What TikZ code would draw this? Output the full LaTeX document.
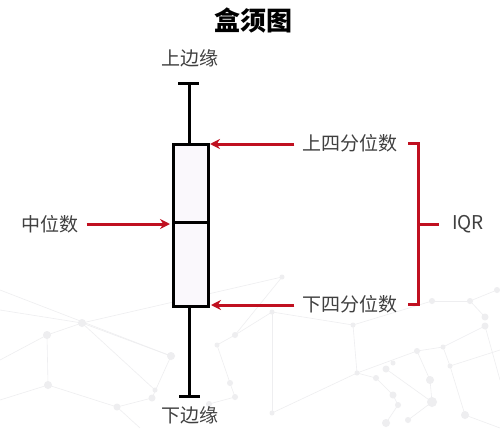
\documentclass[tikz,border=0pt]{standalone}
\usepackage{fontspec}
\setmainfont{Noto Sans CJK SC}
\usetikzlibrary{arrows.meta}
\definecolor{accred}{RGB}{192,16,32}
\definecolor{txtgray}{RGB}{64,64,64}
\definecolor{boxfill}{RGB}{250,248,252}
\definecolor{netgray}{RGB}{238,238,240}
\tikzset{
  lbl/.style={font=\fontsize{19}{22}\selectfont, text=txtgray, inner sep=2pt},
  bxline/.style={draw=black, line width=3pt},
  redarrow/.style={draw=accred, line width=3pt, -{Stealth[length=10pt,width=10pt]}},
  redline/.style={draw=accred, line width=3pt},
  netline/.style={draw=netgray, line width=0.6pt},
  netdot/.style={fill=netgray},
}
\begin{document}
\begin{tikzpicture}[x=1pt,y=-1pt]
\useasboundingbox (0,0) rectangle (500,428);
\fill[white] (0,0) rectangle (500,428);
% faint background network
\foreach \a/\b in {
  {(0,310)}/{(82,323)},{(82,323)}/{(47,335)},{(47,335)}/{(48,385)},{(48,385)}/{(117,407)},
  {(117,407)}/{(152,398)},{(82,323)}/{(171,356)},{(47,335)}/{(0,360)},{(48,385)}/{(0,400)},
  {(82,323)}/{(155,390)},{(171,356)}/{(152,398)},{(117,407)}/{(140,428)},{(82,323)}/{(282,277)},
  {(217,345)}/{(230,383)},{(230,383)}/{(235,397)},{(209,404)}/{(235,397)},{(235,335)}/{(217,345)},
  {(272,312)}/{(353,325)},{(272,312)}/{(272,413)},{(353,325)}/{(357,373)},{(357,373)}/{(376,378)},
  {(357,373)}/{(417,351)},{(417,351)}/{(443,347)},{(443,347)}/{(450,366)},{(450,366)}/{(465,415)},
  {(417,351)}/{(430,380)},{(430,380)}/{(432,402)},{(432,402)}/{(408,420)},{(376,378)}/{(393,395)},
  {(393,395)}/{(398,405)},{(398,405)}/{(386,423)},{(485,326)}/{(443,347)},{(485,317)}/{(470,301)},
  {(470,301)}/{(432,301)},{(432,301)}/{(353,325)},{(497,290)}/{(470,301)},{(485,326)}/{(500,380)},
  {(357,373)}/{(272,413)},{(235,335)}/{(272,312)},{(0,290)}/{(171,356)},{(450,366)}/{(500,350)},
  {(465,415)}/{(500,428)},{(386,369)}/{(432,402)},{(282,277)}/{(235,335)}}
  {\draw[netline] \a -- \b;}
\foreach \p/\r in {{(82,323)}/4,{(47,335)}/4,{(48,385)}/4,{(117,407)}/3.5,{(152,398)}/3.5,{(155,390)}/2.5,
  {(171,356)}/4,{(230,383)}/3,{(235,397)}/3,{(209,404)}/3,{(217,345)}/2.5,{(235,335)}/3,
  {(282,277)}/2.5,{(272,312)}/2.5,{(353,325)}/2.5,{(357,373)}/2.5,{(376,378)}/3,{(386,369)}/3.5,
  {(393,363)}/2.5,{(417,351)}/3,{(430,380)}/4,{(432,402)}/5,{(443,347)}/2.5,{(450,366)}/2.5,
  {(393,395)}/3.5,{(398,405)}/3,{(386,423)}/4,{(408,420)}/3,{(465,415)}/4,{(485,317)}/3.5,
  {(485,326)}/3.5,{(497,290)}/3,{(470,301)}/3,{(432,301)}/3,{(272,413)}/2.5}
  {\fill[netdot] \p circle (\r);}

% title
\node[font=\fontsize{26}{30}\selectfont\bfseries, text=black] (title) at (253,21) {盒须图};

% whiskers
\coordinate (wtop) at (189,83);
\coordinate (wbot) at (189,396);
\node[draw=black, line width=3pt, fill=boxfill, minimum width=35pt, minimum height=162pt, inner sep=0pt, anchor=north west] (box) at (172,143) {};
\draw[bxline] (box.north -| wtop) -- (wtop);
\draw[bxline] (box.south -| wbot) -- (wbot);
\draw[bxline] ([xshift=-11pt]wtop) -- ([xshift=10pt]wtop);
\draw[bxline] ([xshift=-10pt]wbot) -- ([xshift=11pt]wbot);
\coordinate (medl) at (172,222);
\coordinate (medr) at (207,222);
\draw[bxline] (medl) -- (medr);

% labels
\node[lbl] (up) at (190,58) {上边缘};
\node[lbl] (down) at (190,415) {下边缘};
\node[lbl] (mid) at (50,224) {中位数};
\node[lbl] (uq) at (350,143) {上四分位数};
\node[lbl] (lq) at (350,304) {下四分位数};
\node[lbl] (iqr) at (468,224) {IQR};

% arrows
\coordinate (midend) at (170,224);
\coordinate (uqend) at (210,144);
\coordinate (lqend) at (211,305);
\draw[redarrow, shorten <=6pt] (mid.east) -- (midend);
\draw[redarrow, shorten <=6pt] (uq.west |- uqend) -- (uqend);
\draw[redarrow, shorten <=6pt] (lq.west |- lqend) -- (lqend);

% bracket
\coordinate (bt) at (408,143);
\coordinate (bb) at (408,304);
\coordinate (bm) at (418,224);
\coordinate (bi) at (439,224);
\draw[redline] (bt) -- (418,143) -- (418,304) -- (bb);
\draw[redline] (bm) -- (bi);
\end{tikzpicture}
\end{document}
